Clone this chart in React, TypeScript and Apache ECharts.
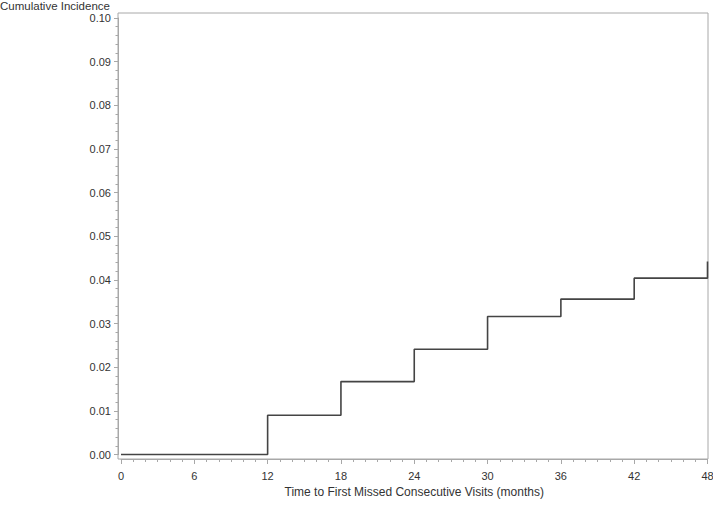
import React, { useEffect, useRef } from "react";
import * as echarts from "echarts";

const months = [0, 12, 18, 24, 30, 36, 42, 48];
const incidence = [0.0, 0.009, 0.0167, 0.0241, 0.0316, 0.0356, 0.0404, 0.0442];
const xTickStep = 6;
const yTickStep = 0.01;

const xTitle = "Time to First Missed Consecutive Visits (months)";
const yTitle = "Cumulative Incidence";

const FONT = "Liberation Sans, Arial, sans-serif";
const TEXT = "#333";
const AXIS = "#a8a8a8";

export default function App() {
  const ref = useRef<HTMLDivElement>(null);
  useEffect(() => {
    if (!ref.current) return;
    const chart = echarts.init(ref.current, undefined, { renderer: "svg" });
    chart.setOption({
      animation: false,
      backgroundColor: "#fff",
      grid: [
        {
          left: 121,
          top: 18,
          width: 586.5,
          height: 436.5,
          show: false,
          containLabel: false,
          outerBoundsMode: "none",
        },
        {
          left: 118,
          top: 13,
          width: 590,
          height: 446,
          show: true,
          borderColor: AXIS,
          borderWidth: 1,
          backgroundColor: "transparent",
          containLabel: false,
          outerBoundsMode: "none",
        },
      ],
      graphic: [
        {
          type: "text",
          left: 0,
          top: 0,
          style: { text: yTitle, fill: TEXT, font: `11.5px ${FONT}` },
        },
      ],
      xAxis: [
        {
          type: "value",
          gridIndex: 0,
          min: 0,
          max: 48,
          interval: xTickStep,
          position: "bottom",
          offset: 4.5,
          splitLine: { show: false },
          axisLine: { show: true, onZero: false, lineStyle: { color: AXIS } },
          axisTick: { show: true, length: 5, lineStyle: { color: AXIS } },
          minorTick: { show: true, splitNumber: 6, length: 3, lineStyle: { color: AXIS } },
          minorSplitLine: { show: false },
          axisLabel: {
            color: TEXT,
            fontSize: 11,
            fontFamily: FONT,
            margin: 11,
            formatter: (v: number) => String(v),
          },
          name: xTitle,
          nameLocation: "middle",
          nameGap: 27,
          nameTextStyle: { color: TEXT, fontSize: 12, fontFamily: FONT },
        },
        {
          type: "value",
          gridIndex: 1,
          min: 0,
          max: 1,
          show: false,
        },
      ],
      yAxis: [
        {
          type: "value",
          gridIndex: 0,
          min: 0,
          max: 0.1,
          interval: yTickStep,
          position: "left",
          offset: 3,
          splitLine: { show: false },
          axisLine: { show: true, onZero: false, lineStyle: { color: AXIS } },
          axisTick: { show: true, length: 4, lineStyle: { color: AXIS } },
          minorTick: { show: true, splitNumber: 5, length: 2.5, lineStyle: { color: AXIS } },
          minorSplitLine: { show: false },
          axisLabel: {
            color: TEXT,
            fontSize: 11,
            fontFamily: FONT,
            margin: 7,
            formatter: (v: number) => v.toFixed(2),
          },
        },
        {
          type: "value",
          gridIndex: 1,
          min: 0,
          max: 1,
          show: false,
        },
      ],
      series: [
        {
          type: "line",
          step: "end",
          xAxisIndex: 0,
          yAxisIndex: 0,
          data: months.map((m, i) => [m, incidence[i]]),
          showSymbol: false,
          symbol: "none",
          clip: false,
          lineStyle: { color: "#444", width: 1.6 },
        },
      ],
    });
    return () => chart.dispose();
  }, []);
  return (
    <div
      ref={ref}
      style={{ position: "fixed", left: 0, top: 0, width: 713, height: 507 }}
    />
  );
}
